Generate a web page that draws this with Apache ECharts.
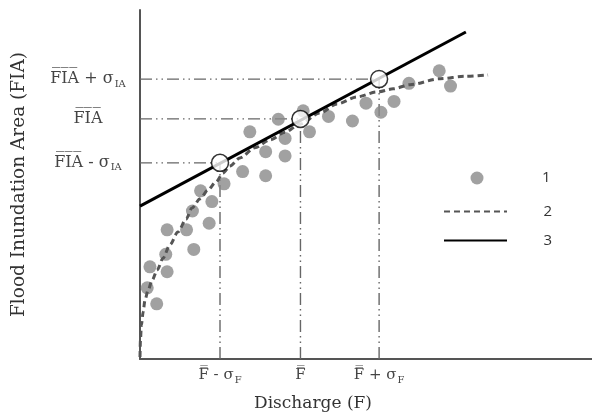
<!DOCTYPE html>
<html>
<head>
<meta charset="utf-8">
<script src="https://cdn.jsdelivr.net/npm/echarts@6/dist/echarts.min.js"></script>
<style>
html,body{margin:0;padding:0;background:#fff;}
#chart{width:592px;height:412px;}
</style>
</head>
<body>
<div id="chart"></div>
<script>
// Observed points (legend 1)
const obsX = [0.16,0.22,0.37,0.57,0.60,0.60,1.03,1.16,1.19,1.34,1.53,1.59,1.86,2.27,2.43,2.78,2.78,3.21,3.21,3.06,3.61,3.75,4.17,4.70,5.00,5.33,5.62,5.95,6.62,6.87];
const obsY = [2.04,2.64,1.58,3.00,3.70,2.50,3.70,4.24,3.14,4.82,3.89,4.51,5.02,5.37,6.51,5.94,5.25,6.32,5.82,6.87,7.11,6.51,6.95,6.82,7.33,7.07,7.38,7.90,8.26,7.82];
// Fitted saturating curve (legend 2)
const curveX = [0,0.01,0.03,0.07,0.11,0.18,0.27,0.38,0.51,0.66,0.84,1.02,1.15,1.33,1.50,1.68,1.84,1.99,2.21,2.54,2.88,3.21,3.54,3.98,4.36,4.80,5.24,5.60,5.97,6.64,7.19,7.70];
const curveY = [0.06,0.54,0.97,1.35,1.69,1.98,2.26,2.55,2.89,3.27,3.64,4.01,4.33,4.59,4.84,5.07,5.33,5.53,5.76,6.05,6.28,6.50,6.73,7.05,7.31,7.51,7.65,7.74,7.86,8.03,8.10,8.14];
// Linear line (legend 3)
const lineX = [0, 7.21];
const lineY = [4.38, 9.37];
// Mean +/- sd levels
const fLevels = [1.77, 3.55, 5.29];
const fiaLevels = [5.62, 6.88, 8.02];
const fLabels = ['F\u033F - σ{s|F}', 'F\u033F', 'F\u033F + σ{s|F}'];
const fiaLabels = ['F\u0305I\u0305A\u0305 - σ{s|IA}', 'F\u0305I\u0305A\u0305', 'F\u0305I\u0305A\u0305 + σ{s|IA}'];

const serif = '"DejaVu Serif", serif';
const refStyle = {color:'#666', width:1.4, type:[12,4,1.5,4,1.5,4]};

const refSeries = [];
fLevels.forEach((f,i)=>{
  refSeries.push({type:'line', name:'refh'+i, data:[[0,fiaLevels[i]],[f,fiaLevels[i]]], symbol:'none', lineStyle:refStyle, z:1, silent:true});
  refSeries.push({type:'line', name:'refv'+i, data:[[f,0],[f,fiaLevels[i]]], symbol:'none', lineStyle:refStyle, z:1, silent:true});
});

function nearestLabel(v, levels, labels){
  let best=0, d=1e9;
  levels.forEach((l,i)=>{ if(Math.abs(l-v)<d){d=Math.abs(l-v);best=i;} });
  return labels[best];
}

const chart = echarts.init(document.getElementById('chart'), null, {renderer:'canvas'});
const lf = '"Open Sans", sans-serif';
function legendText(w){
  return {color:'#333', fontSize:15, fontFamily:lf,
    rich:{a:{color:'#333', fontSize:15, fontFamily:lf, width:w, align:'right'}}};
}
const legendFmt = (n)=>'{a|'+n+'}';
chart.setOption({
  animation:false,
  grid:{left:140, right:0, top:10, bottom:53, containLabel:false, outerBoundsMode:'none'},
  legend:[
    {data:['1'], left:470.5, top:170.5, itemWidth:13, itemHeight:13, selectedMode:false, textStyle:legendText(62), formatter:legendFmt, padding:0},
    {data:['2'], left:443, top:204, itemWidth:63, itemHeight:13, selectedMode:false, textStyle:legendText(40), formatter:legendFmt, padding:0, itemStyle:{opacity:0}},
    {data:['3'], left:443, top:233, itemWidth:63, itemHeight:13, selectedMode:false, textStyle:legendText(40), formatter:legendFmt, padding:0, itemStyle:{opacity:0}}
  ],
  xAxis:{
    type:'value', min:0, max:10,
    name:'Discharge (F)', nameLocation:'middle', nameGap:36,
    nameTextStyle:{fontFamily:serif, fontSize:17, color:'#333', padding:[0,106,0,0]},
    axisLine:{lineStyle:{color:'#555', width:2}},
    axisTick:{show:false},
    splitLine:{show:false},
    axisLabel:{customValues:fLevels, margin:9, fontFamily:serif, fontSize:15, color:'#444',
      formatter:(v)=>nearestLabel(v,fLevels,fLabels),
      rich:{s:{fontFamily:serif, fontSize:10, color:'#444', verticalAlign:'bottom', padding:[0,0,-2,1]}}}
  },
  yAxis:{
    type:'value', min:0, max:10,
    name:'Flood Inundation Area (FIA)', nameLocation:'middle', nameGap:111,
    nameTextStyle:{fontFamily:serif, fontSize:18.5, color:'#333'},
    axisLine:{lineStyle:{color:'#555', width:2}},
    axisTick:{show:false},
    splitLine:{show:false},
    axisLabel:{customValues:fiaLevels, margin:52, align:'center', fontFamily:serif, fontSize:16, color:'#444',
      formatter:(v)=>nearestLabel(v,fiaLevels,fiaLabels),
      rich:{s:{fontFamily:serif, fontSize:10, color:'#444', verticalAlign:'bottom', padding:[0,0,-2,1]}}}
  },
  series:[
    ...refSeries,
    {type:'scatter', name:'1', data:obsX.map((x,i)=>[x,obsY[i]]), symbol:'circle', symbolSize:13,
      itemStyle:{color:'#898989'}, z:2},
    {type:'line', name:'2', data:curveX.map((x,i)=>[x,curveY[i]]), symbol:'none', smooth:0.3, smoothMonotone:'x',
      lineStyle:{color:'#555', width:3, type:[6,4]}, itemStyle:{color:'#555'}, z:3},
    {type:'line', name:'3', data:lineX.map((x,i)=>[x,lineY[i]]), symbol:'none',
      lineStyle:{color:'#000', width:3}, itemStyle:{color:'#000'}, z:4},
    {type:'scatter', name:'means', data:fLevels.map((f,i)=>[f,fiaLevels[i]]), symbol:'circle', symbolSize:17,
      itemStyle:{color:'#fff', borderColor:'#000', borderWidth:1.5}, z:5}
  ]
});
</script>
</body>
</html>
